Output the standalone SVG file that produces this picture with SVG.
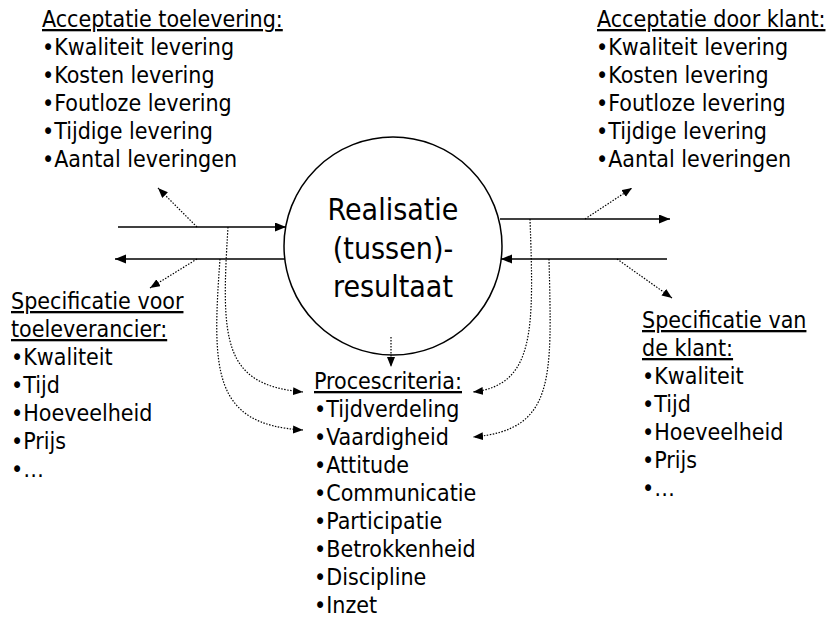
<svg xmlns="http://www.w3.org/2000/svg" width="828" height="623" viewBox="0 0 828 623">
<defs>
<style>
text{font-family:"DejaVu Sans Condensed","DejaVu Sans",sans-serif;font-stretch:condensed;font-size:23px;fill:#000}
.h{text-decoration:underline}
.big{font-size:30px;text-anchor:middle}
.solid{stroke:#000;stroke-width:1.5;fill:none}
.dot{stroke:#000;stroke-width:1.2;stroke-dasharray:1.5 1.5;fill:none}
</style>
<marker id="a" markerUnits="userSpaceOnUse" markerWidth="12" markerHeight="10" refX="11" refY="4.5" orient="auto">
<path d="M0,0 L11,4.5 L0,9 z" fill="#000"/>
</marker>
<marker id="d" markerUnits="userSpaceOnUse" markerWidth="12" markerHeight="10" refX="10" refY="4" orient="auto">
<path d="M0,0 L10,4 L0,8 z" fill="#000"/>
</marker>
</defs>
<g id="centre">
<circle cx="393" cy="246" r="109" fill="#fff" stroke="#000" stroke-width="1.5"/>
<text class="big" x="393" y="220">Realisatie</text>
<text class="big" x="393" y="259">(tussen)-</text>
<text class="big" x="393" y="297">resultaat</text>
</g>
<g id="acceptatie-toelevering">
<text class="h" x="42" y="27">Acceptatie toelevering:</text>
<text x="42" y="55">•Kwaliteit levering</text>
<text x="42" y="83">•Kosten levering</text>
<text x="42" y="111">•Foutloze levering</text>
<text x="42" y="139">•Tijdige levering</text>
<text x="42" y="167">•Aantal leveringen</text>
</g>
<g id="acceptatie-klant">
<text class="h" x="597" y="27">Acceptatie door klant:</text>
<text x="596" y="55">•Kwaliteit levering</text>
<text x="596" y="83">•Kosten levering</text>
<text x="596" y="111">•Foutloze levering</text>
<text x="596" y="139">•Tijdige levering</text>
<text x="596" y="167">•Aantal leveringen</text>
</g>
<g id="specificatie-toeleverancier">
<text class="h" x="11" y="309">Specificatie voor</text>
<text class="h" x="11" y="337">toeleverancier:</text>
<text x="11" y="365">•Kwaliteit</text>
<text x="11" y="393">•Tijd</text>
<text x="11" y="421">•Hoeveelheid</text>
<text x="11" y="449">•Prijs</text>
<text x="11" y="477">•…</text>
</g>
<g id="specificatie-klant">
<text class="h" x="642" y="328">Specificatie van</text>
<text class="h" x="642" y="356">de klant:</text>
<text x="642" y="384">•Kwaliteit</text>
<text x="642" y="412">•Tijd</text>
<text x="642" y="440">•Hoeveelheid</text>
<text x="642" y="468">•Prijs</text>
<text x="642" y="496">•…</text>
</g>
<g id="procescriteria">
<text class="h" x="314" y="389">Procescriteria:</text>
<text x="314" y="417">•Tijdverdeling</text>
<text x="314" y="445">•Vaardigheid</text>
<text x="314" y="473">•Attitude</text>
<text x="314" y="501">•Communicatie</text>
<text x="314" y="529">•Participatie</text>
<text x="314" y="557">•Betrokkenheid</text>
<text x="314" y="585">•Discipline</text>
<text x="314" y="613">•Inzet</text>
</g>
<g id="connectors">
<line class="solid" x1="118" y1="227" x2="286" y2="227" marker-end="url(#a)"/>
<line class="solid" x1="285" y1="259" x2="115" y2="259" marker-end="url(#a)"/>
<line class="solid" x1="500" y1="219" x2="670" y2="219" marker-end="url(#a)"/>
<line class="solid" x1="667" y1="259" x2="501" y2="259" marker-end="url(#a)"/>
<line class="dot" x1="197" y1="227" x2="158" y2="188" marker-end="url(#d)"/>
<line class="dot" x1="197" y1="259" x2="150" y2="288" marker-end="url(#d)"/>
<line class="dot" x1="585" y1="219" x2="632" y2="188" marker-end="url(#d)"/>
<line class="dot" x1="617" y1="259" x2="672" y2="298" marker-end="url(#d)"/>
<line class="dot" x1="391" y1="337" x2="391" y2="367" marker-end="url(#d)"/>
<path class="dot" d="M228,227 C221,340 222,385 303,392" marker-end="url(#d)"/>
<path class="dot" d="M220,259 C212,370 212,425 303,430" marker-end="url(#d)"/>
<path class="dot" d="M530,219 C534,330 535,385 473,392" marker-end="url(#d)"/>
<path class="dot" d="M549,259 C552,380 555,430 473,437" marker-end="url(#d)"/>
</g>
</svg>
